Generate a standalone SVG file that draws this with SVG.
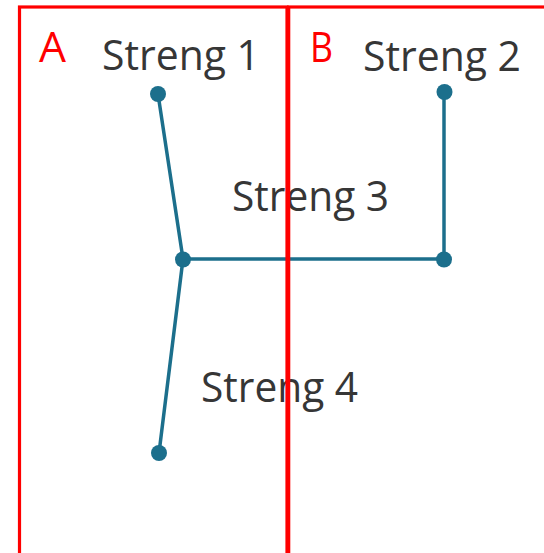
<svg xmlns="http://www.w3.org/2000/svg" width="544" height="553" viewBox="0 0 544 553">
  <style>
    .lbl { font-family: "Open Sans", "Liberation Sans", sans-serif; font-size: 42px; fill: #363636; }
    .zl { font-family: "Open Sans", "Liberation Sans", sans-serif; font-size: 42px; fill: #ff0000; }
    .zone { fill: none; stroke: #ff0000; stroke-width: 3.2; }
    .wire { stroke: #1c6f8c; stroke-width: 3.5; fill: none; stroke-linecap: round; }
    .dot { fill: #1c6f8c; }
  </style>
  <rect width="544" height="553" fill="#ffffff"/>
  <g id="labels">
    <text id="label-streng1" class="lbl" x="102" y="70" textLength="158" lengthAdjust="spacingAndGlyphs">Streng 1</text>
    <text id="label-streng2" class="lbl" x="363" y="71" textLength="158" lengthAdjust="spacingAndGlyphs">Streng 2</text>
    <text id="label-streng3" class="lbl" x="232" y="211" textLength="157" lengthAdjust="spacingAndGlyphs">Streng 3</text>
    <text id="label-streng4" class="lbl" x="201" y="402" textLength="157" lengthAdjust="spacingAndGlyphs">Streng 4</text>
  </g>
  <g id="connectors">
    <line class="wire" x1="158" y1="94" x2="183" y2="259"/>
    <line class="wire" x1="183" y1="259" x2="159" y2="453"/>
    <line class="wire" x1="183" y1="259" x2="444" y2="259"/>
    <line class="wire" x1="444" y1="259" x2="444" y2="92"/>
  </g>
  <g id="node-streng1-end"><circle class="dot" cx="158" cy="94" r="8"/></g>
  <g id="node-streng2-end"><circle class="dot" cx="444.5" cy="92" r="8"/></g>
  <g id="node-junction"><circle class="dot" cx="183" cy="259.5" r="8"/></g>
  <g id="node-corner"><circle class="dot" cx="444" cy="259.5" r="8"/></g>
  <g id="node-streng4-end"><circle class="dot" cx="159" cy="453" r="8"/></g>
  <g id="zone-A">
    <rect class="zone" x="19.5" y="7" width="267.5" height="560"/>
    <text class="zl" x="39" y="62" textLength="27" lengthAdjust="spacingAndGlyphs">A</text>
  </g>
  <g id="zone-B">
    <rect class="zone" x="288.7" y="7" width="270" height="560"/>
    <text class="zl" x="310" y="62" textLength="23" lengthAdjust="spacingAndGlyphs">B</text>
  </g>
</svg>
